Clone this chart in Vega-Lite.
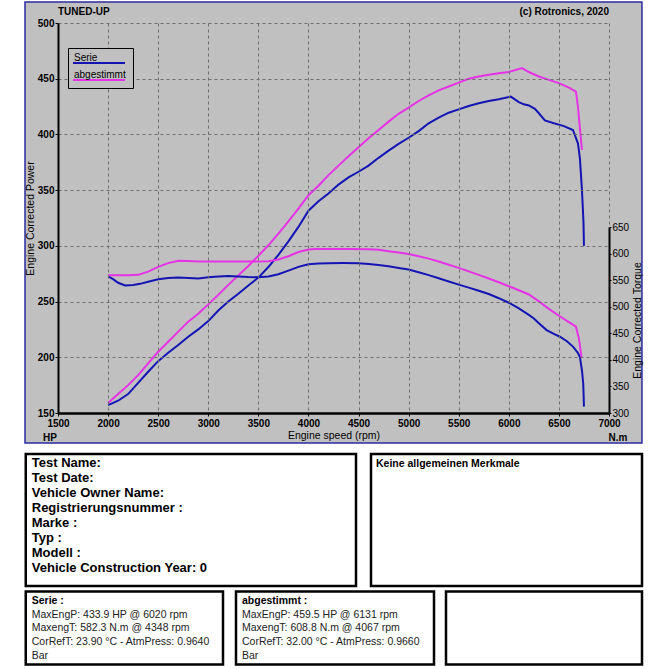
{
  "$schema": "https://vega.github.io/schema/vega-lite/v6.json",
  "background": "white",
  "padding": {"left": 24, "top": 1, "right": 0, "bottom": 0},
  "autosize": {"type": "pad"},
  "config": {
    "view": {"stroke": null},
    "font": "Liberation Sans",
    "axis": {
      "grid": true, "gridColor": "#6e6e6e", "gridDash": [3, 3], "gridWidth": 1,
      "domainColor": "black", "tickColor": "black", "labelColor": "black", "titleColor": "black",
      "labelFont": "Liberation Sans", "titleFont": "Liberation Sans",
      "labelFontSize": 10, "titleFontSize": 10.5, "titleFontWeight": "normal", "tickSize": 3, "format": "d"
    },
    "axisX": {"labelFontWeight": "bold", "domainWidth": 2.5, "labelPadding": 2, "titlePadding": 2, "labelFlush": false},
    "axisLeft": {"labelFontWeight": "bold", "domainWidth": 2, "labelPadding": 1, "titlePadding": 2},
    "axisRight": {"labelFontWeight": "normal", "domainWidth": 2, "labelPadding": 1, "titlePadding": 4, "tickSize": 2}
  },
  "datasets": {
    "power": [
      {"rpm": 2000, "power": 157, "series": "Serie"}, {"rpm": 2100, "power": 161, "series": "Serie"}, {"rpm": 2200, "power": 167, "series": "Serie"}, {"rpm": 2300, "power": 177, "series": "Serie"}, {"rpm": 2400, "power": 187, "series": "Serie"}, {"rpm": 2500, "power": 196.5, "series": "Serie"}, {"rpm": 2600, "power": 204, "series": "Serie"}, {"rpm": 2700, "power": 211, "series": "Serie"}, {"rpm": 2800, "power": 218.5, "series": "Serie"}, {"rpm": 2900, "power": 225, "series": "Serie"}, {"rpm": 3000, "power": 232.5, "series": "Serie"}, {"rpm": 3100, "power": 242, "series": "Serie"}, {"rpm": 3200, "power": 250, "series": "Serie"}, {"rpm": 3300, "power": 257, "series": "Serie"}, {"rpm": 3400, "power": 264.5, "series": "Serie"}, {"rpm": 3500, "power": 271.5, "series": "Serie"}, {"rpm": 3600, "power": 281, "series": "Serie"}, {"rpm": 3700, "power": 292, "series": "Serie"}, {"rpm": 3800, "power": 304, "series": "Serie"}, {"rpm": 3900, "power": 317, "series": "Serie"}, {"rpm": 4000, "power": 331.5, "series": "Serie"}, {"rpm": 4100, "power": 340, "series": "Serie"}, {"rpm": 4200, "power": 347, "series": "Serie"}, {"rpm": 4300, "power": 355, "series": "Serie"}, {"rpm": 4400, "power": 361.5, "series": "Serie"}, {"rpm": 4500, "power": 366.5, "series": "Serie"}, {"rpm": 4600, "power": 372, "series": "Serie"}, {"rpm": 4700, "power": 379, "series": "Serie"}, {"rpm": 4800, "power": 385.5, "series": "Serie"}, {"rpm": 4900, "power": 391.5, "series": "Serie"}, {"rpm": 5000, "power": 397, "series": "Serie"}, {"rpm": 5100, "power": 403, "series": "Serie"}, {"rpm": 5200, "power": 410, "series": "Serie"}, {"rpm": 5300, "power": 415, "series": "Serie"}, {"rpm": 5400, "power": 419.5, "series": "Serie"}, {"rpm": 5500, "power": 422.5, "series": "Serie"}, {"rpm": 5600, "power": 425.5, "series": "Serie"}, {"rpm": 5700, "power": 428, "series": "Serie"}, {"rpm": 5800, "power": 430, "series": "Serie"}, {"rpm": 5900, "power": 431.5, "series": "Serie"}, {"rpm": 6020, "power": 433.9, "series": "Serie"}, {"rpm": 6100, "power": 429, "series": "Serie"}, {"rpm": 6150, "power": 427, "series": "Serie"}, {"rpm": 6200, "power": 426, "series": "Serie"}, {"rpm": 6260, "power": 423, "series": "Serie"}, {"rpm": 6300, "power": 419, "series": "Serie"}, {"rpm": 6360, "power": 412.5, "series": "Serie"}, {"rpm": 6450, "power": 410, "series": "Serie"}, {"rpm": 6550, "power": 407.5, "series": "Serie"}, {"rpm": 6640, "power": 404, "series": "Serie"}, {"rpm": 6690, "power": 392, "series": "Serie"}, {"rpm": 6710, "power": 378, "series": "Serie"}, {"rpm": 6730, "power": 350, "series": "Serie"}, {"rpm": 6745, "power": 322, "series": "Serie"}, {"rpm": 6750, "power": 300, "series": "Serie"},
      {"rpm": 2000, "power": 159, "series": "abgestimmt"}, {"rpm": 2100, "power": 167, "series": "abgestimmt"}, {"rpm": 2200, "power": 175, "series": "abgestimmt"}, {"rpm": 2300, "power": 184, "series": "abgestimmt"}, {"rpm": 2400, "power": 194.5, "series": "abgestimmt"}, {"rpm": 2500, "power": 205, "series": "abgestimmt"}, {"rpm": 2600, "power": 214, "series": "abgestimmt"}, {"rpm": 2700, "power": 223, "series": "abgestimmt"}, {"rpm": 2800, "power": 232, "series": "abgestimmt"}, {"rpm": 2900, "power": 239, "series": "abgestimmt"}, {"rpm": 3000, "power": 247.5, "series": "abgestimmt"}, {"rpm": 3100, "power": 256, "series": "abgestimmt"}, {"rpm": 3200, "power": 265, "series": "abgestimmt"}, {"rpm": 3300, "power": 273.5, "series": "abgestimmt"}, {"rpm": 3400, "power": 282, "series": "abgestimmt"}, {"rpm": 3500, "power": 291, "series": "abgestimmt"}, {"rpm": 3600, "power": 300.5, "series": "abgestimmt"}, {"rpm": 3700, "power": 311, "series": "abgestimmt"}, {"rpm": 3800, "power": 322, "series": "abgestimmt"}, {"rpm": 3900, "power": 333.5, "series": "abgestimmt"}, {"rpm": 4000, "power": 345.5, "series": "abgestimmt"}, {"rpm": 4100, "power": 354, "series": "abgestimmt"}, {"rpm": 4200, "power": 363.5, "series": "abgestimmt"}, {"rpm": 4300, "power": 372, "series": "abgestimmt"}, {"rpm": 4400, "power": 380.5, "series": "abgestimmt"}, {"rpm": 4500, "power": 388.5, "series": "abgestimmt"}, {"rpm": 4600, "power": 396.5, "series": "abgestimmt"}, {"rpm": 4700, "power": 404, "series": "abgestimmt"}, {"rpm": 4800, "power": 411.5, "series": "abgestimmt"}, {"rpm": 4900, "power": 418.5, "series": "abgestimmt"}, {"rpm": 5000, "power": 424, "series": "abgestimmt"}, {"rpm": 5100, "power": 430, "series": "abgestimmt"}, {"rpm": 5200, "power": 435, "series": "abgestimmt"}, {"rpm": 5300, "power": 439.5, "series": "abgestimmt"}, {"rpm": 5400, "power": 443, "series": "abgestimmt"}, {"rpm": 5500, "power": 446.5, "series": "abgestimmt"}, {"rpm": 5600, "power": 450, "series": "abgestimmt"}, {"rpm": 5700, "power": 452, "series": "abgestimmt"}, {"rpm": 5800, "power": 453.5, "series": "abgestimmt"}, {"rpm": 5900, "power": 455, "series": "abgestimmt"}, {"rpm": 6000, "power": 456, "series": "abgestimmt"}, {"rpm": 6131, "power": 459.5, "series": "abgestimmt"}, {"rpm": 6200, "power": 456, "series": "abgestimmt"}, {"rpm": 6300, "power": 452, "series": "abgestimmt"}, {"rpm": 6400, "power": 449, "series": "abgestimmt"}, {"rpm": 6500, "power": 446, "series": "abgestimmt"}, {"rpm": 6600, "power": 442, "series": "abgestimmt"}, {"rpm": 6670, "power": 438.5, "series": "abgestimmt"}, {"rpm": 6690, "power": 425, "series": "abgestimmt"}, {"rpm": 6710, "power": 405, "series": "abgestimmt"}, {"rpm": 6730, "power": 386, "series": "abgestimmt"}
    ],
    "torque": [
      {"rpm": 2000, "torque": 557, "series": "Serie"}, {"rpm": 2050, "torque": 552, "series": "Serie"}, {"rpm": 2100, "torque": 545, "series": "Serie"}, {"rpm": 2170, "torque": 540, "series": "Serie"}, {"rpm": 2250, "torque": 541, "series": "Serie"}, {"rpm": 2320, "torque": 543, "series": "Serie"}, {"rpm": 2400, "torque": 547, "series": "Serie"}, {"rpm": 2500, "torque": 551.5, "series": "Serie"}, {"rpm": 2600, "torque": 554, "series": "Serie"}, {"rpm": 2700, "torque": 555, "series": "Serie"}, {"rpm": 2800, "torque": 554, "series": "Serie"}, {"rpm": 2900, "torque": 553, "series": "Serie"}, {"rpm": 3000, "torque": 555.5, "series": "Serie"}, {"rpm": 3100, "torque": 557, "series": "Serie"}, {"rpm": 3200, "torque": 558, "series": "Serie"}, {"rpm": 3300, "torque": 557, "series": "Serie"}, {"rpm": 3400, "torque": 556, "series": "Serie"}, {"rpm": 3500, "torque": 555.5, "series": "Serie"}, {"rpm": 3600, "torque": 557, "series": "Serie"}, {"rpm": 3700, "torque": 561, "series": "Serie"}, {"rpm": 3800, "torque": 568, "series": "Serie"}, {"rpm": 3900, "torque": 575, "series": "Serie"}, {"rpm": 4000, "torque": 580, "series": "Serie"}, {"rpm": 4100, "torque": 581.5, "series": "Serie"}, {"rpm": 4200, "torque": 582, "series": "Serie"}, {"rpm": 4348, "torque": 582.3, "series": "Serie"}, {"rpm": 4500, "torque": 582, "series": "Serie"}, {"rpm": 4600, "torque": 580.5, "series": "Serie"}, {"rpm": 4700, "torque": 578.5, "series": "Serie"}, {"rpm": 4800, "torque": 576, "series": "Serie"}, {"rpm": 4900, "torque": 573, "series": "Serie"}, {"rpm": 5000, "torque": 570, "series": "Serie"}, {"rpm": 5100, "torque": 565, "series": "Serie"}, {"rpm": 5200, "torque": 559.5, "series": "Serie"}, {"rpm": 5300, "torque": 553.5, "series": "Serie"}, {"rpm": 5400, "torque": 547.5, "series": "Serie"}, {"rpm": 5500, "torque": 541.5, "series": "Serie"}, {"rpm": 5600, "torque": 536, "series": "Serie"}, {"rpm": 5700, "torque": 530, "series": "Serie"}, {"rpm": 5800, "torque": 524, "series": "Serie"}, {"rpm": 5900, "torque": 516, "series": "Serie"}, {"rpm": 6000, "torque": 507.5, "series": "Serie"}, {"rpm": 6100, "torque": 497, "series": "Serie"}, {"rpm": 6200, "torque": 484.5, "series": "Serie"}, {"rpm": 6250, "torque": 478, "series": "Serie"}, {"rpm": 6300, "torque": 469, "series": "Serie"}, {"rpm": 6377, "torque": 456, "series": "Serie"}, {"rpm": 6450, "torque": 449, "series": "Serie"}, {"rpm": 6510, "torque": 443.5, "series": "Serie"}, {"rpm": 6580, "torque": 435, "series": "Serie"}, {"rpm": 6643, "torque": 424.5, "series": "Serie"}, {"rpm": 6690, "torque": 413, "series": "Serie"}, {"rpm": 6710, "torque": 405, "series": "Serie"}, {"rpm": 6730, "torque": 380, "series": "Serie"}, {"rpm": 6743, "torque": 355, "series": "Serie"}, {"rpm": 6750, "torque": 312, "series": "Serie"},
      {"rpm": 2000, "torque": 559, "series": "abgestimmt"}, {"rpm": 2100, "torque": 559, "series": "abgestimmt"}, {"rpm": 2200, "torque": 559, "series": "abgestimmt"}, {"rpm": 2300, "torque": 560, "series": "abgestimmt"}, {"rpm": 2400, "torque": 566, "series": "abgestimmt"}, {"rpm": 2500, "torque": 575, "series": "abgestimmt"}, {"rpm": 2600, "torque": 582, "series": "abgestimmt"}, {"rpm": 2700, "torque": 586.5, "series": "abgestimmt"}, {"rpm": 2800, "torque": 586, "series": "abgestimmt"}, {"rpm": 2900, "torque": 585, "series": "abgestimmt"}, {"rpm": 3000, "torque": 585, "series": "abgestimmt"}, {"rpm": 3200, "torque": 585, "series": "abgestimmt"}, {"rpm": 3400, "torque": 585, "series": "abgestimmt"}, {"rpm": 3600, "torque": 585.5, "series": "abgestimmt"}, {"rpm": 3700, "torque": 589, "series": "abgestimmt"}, {"rpm": 3800, "torque": 595, "series": "abgestimmt"}, {"rpm": 3900, "torque": 603, "series": "abgestimmt"}, {"rpm": 4000, "torque": 607.5, "series": "abgestimmt"}, {"rpm": 4067, "torque": 608.8, "series": "abgestimmt"}, {"rpm": 4200, "torque": 608.5, "series": "abgestimmt"}, {"rpm": 4400, "torque": 608.5, "series": "abgestimmt"}, {"rpm": 4600, "torque": 608, "series": "abgestimmt"}, {"rpm": 4700, "torque": 607, "series": "abgestimmt"}, {"rpm": 4800, "torque": 604.5, "series": "abgestimmt"}, {"rpm": 4900, "torque": 602, "series": "abgestimmt"}, {"rpm": 5000, "torque": 599, "series": "abgestimmt"}, {"rpm": 5100, "torque": 595, "series": "abgestimmt"}, {"rpm": 5200, "torque": 590.5, "series": "abgestimmt"}, {"rpm": 5300, "torque": 585, "series": "abgestimmt"}, {"rpm": 5400, "torque": 579, "series": "abgestimmt"}, {"rpm": 5500, "torque": 573, "series": "abgestimmt"}, {"rpm": 5600, "torque": 566.5, "series": "abgestimmt"}, {"rpm": 5700, "torque": 560, "series": "abgestimmt"}, {"rpm": 5800, "torque": 553, "series": "abgestimmt"}, {"rpm": 5900, "torque": 546, "series": "abgestimmt"}, {"rpm": 6000, "torque": 538.5, "series": "abgestimmt"}, {"rpm": 6100, "torque": 531, "series": "abgestimmt"}, {"rpm": 6200, "torque": 523, "series": "abgestimmt"}, {"rpm": 6300, "torque": 510, "series": "abgestimmt"}, {"rpm": 6400, "torque": 496, "series": "abgestimmt"}, {"rpm": 6500, "torque": 483, "series": "abgestimmt"}, {"rpm": 6600, "torque": 471, "series": "abgestimmt"}, {"rpm": 6670, "torque": 462.5, "series": "abgestimmt"}, {"rpm": 6700, "torque": 440, "series": "abgestimmt"}, {"rpm": 6726, "torque": 405, "series": "abgestimmt"}
    ],
    "info": [
      {"line": 1, "text": "Test Name:"}, {"line": 2, "text": "Test Date:"}, {"line": 3, "text": "Vehicle Owner Name:"}, {"line": 4, "text": "Registrierungsnummer  :"}, {"line": 5, "text": "Marke  :"}, {"line": 6, "text": "Typ  :"}, {"line": 7, "text": "Modell  :"}, {"line": 8, "text": "Vehicle Construction Year: 0"}
    ],
    "notes": [{"line": 1, "text": "Keine allgemeinen Merkmale"}],
    "serie": [
      {"line": 1, "text": "Serie :"}, {"line": 2, "text": "MaxEngP: 433.9 HP @ 6020 rpm"}, {"line": 3, "text": "MaxengT: 582.3 N.m @ 4348 rpm"}, {"line": 4, "text": "CorRefT: 23.90 °C - AtmPress: 0.9640"}, {"line": 5, "text": "Bar"}
    ],
    "tuned": [
      {"line": 1, "text": "abgestimmt :"}, {"line": 2, "text": "MaxEngP: 459.5 HP @ 6131 rpm"}, {"line": 3, "text": "MaxengT: 608.8 N.m @ 4067 rpm"}, {"line": 4, "text": "CorRefT: 32.00 °C - AtmPress: 0.9660"}, {"line": 5, "text": "Bar"}
    ]
  },
  "spacing": 8,
  "vconcat": [
    {
      "width": 551,
      "height": 390,
      "layer": [
        {
          "layer": [
            {
              "data": {"values": [{}]},
              "mark": {"type": "rect", "fill": "#C0C0C0", "stroke": "#2B2BA0", "strokeWidth": 1.5},
              "encoding": {
                "x": {"datum": 1170.6, "type": "quantitative", "scale": {"domain": [1500, 7000]}},
                "x2": {"datum": 7329},
                "y": {"datum": 518.85, "type": "quantitative", "scale": {"domain": [150, 500]}},
                "y2": {"datum": 123.1}
              }
            },
            {
              "data": {"name": "power"},
              "mark": {"type": "line", "strokeWidth": 2},
              "encoding": {
                "x": {"field": "rpm", "type": "quantitative", "scale": {"domain": [1500, 7000]}, "axis": {"title": "Engine speed (rpm)", "zindex": 1, "values": [1500, 2000, 2500, 3000, 3500, 4000, 4500, 5000, 5500, 6000, 6500, 7000]}},
                "y": {"field": "power", "type": "quantitative", "scale": {"domain": [150, 500]}, "axis": {"title": "Engine Corrected Power", "orient": "left", "zindex": 1, "values": [150, 200, 250, 300, 350, 400, 450, 500]}},
                "color": {
                  "field": "series", "type": "nominal",
                  "scale": {"domain": ["Serie", "abgestimmt"], "range": ["#1414B4", "#E632E6"]},
                  "legend": {"title": null, "orient": "none", "legendX": 10, "legendY": 25, "strokeColor": "black", "fillColor": "#C0C0C0", "padding": 4, "symbolType": "M-1,1H9.4", "symbolStrokeWidth": 2, "symbolSize": 100, "labelOffset": -10, "labelBaseline": "middle", "labelFontSize": 10, "labelFont": "Liberation Sans", "labelColor": "black", "rowPadding": 2, "zindex": 2}
                }
              }
            },
            {
              "data": {"values": [{}]},
              "mark": {"type": "text", "align": "left", "baseline": "middle", "fontSize": 10, "fontWeight": "bold", "color": "black"},
              "encoding": {
                "x": {"datum": 1500, "type": "quantitative", "scale": {"domain": [1500, 7000]}},
                "y": {"datum": 510, "type": "quantitative", "scale": {"domain": [150, 500]}},
                "text": {"value": "TUNED-UP"}
              }
            },
            {
              "data": {"values": [{}]},
              "mark": {"type": "text", "align": "right", "baseline": "middle", "fontSize": 10, "fontWeight": "bold", "color": "black"},
              "encoding": {
                "x": {"datum": 7000, "type": "quantitative", "scale": {"domain": [1500, 7000]}},
                "y": {"datum": 510, "type": "quantitative", "scale": {"domain": [150, 500]}},
                "text": {"value": "(c) Rotronics, 2020"}
              }
            },
            {
              "data": {"values": [{}]},
              "mark": {"type": "text", "align": "center", "baseline": "middle", "fontSize": 10, "fontWeight": "bold", "color": "black"},
              "encoding": {
                "x": {"datum": 1420, "type": "quantitative", "scale": {"domain": [1500, 7000]}},
                "y": {"datum": 128, "type": "quantitative", "scale": {"domain": [150, 500]}},
                "text": {"value": "HP"}
              }
            },
            {
              "data": {"values": [{}]},
              "mark": {"type": "text", "align": "center", "baseline": "middle", "fontSize": 10, "fontWeight": "bold", "color": "black"},
              "encoding": {
                "x": {"datum": 7090, "type": "quantitative", "scale": {"domain": [1500, 7000]}},
                "y": {"datum": 128, "type": "quantitative", "scale": {"domain": [150, 500]}},
                "text": {"value": "N.m"}
              }
            }
          ]
        },
        {
          "data": {"name": "torque"},
          "mark": {"type": "line", "strokeWidth": 2},
          "encoding": {
            "x": {"field": "rpm", "type": "quantitative", "scale": {"domain": [1500, 7000]}, "axis": {"title": "Engine speed (rpm)", "zindex": 1, "values": [1500, 2000, 2500, 3000, 3500, 4000, 4500, 5000, 5500, 6000, 6500, 7000]}},
            "y": {"field": "torque", "type": "quantitative", "scale": {"domain": [300, 650], "range": [390, 204]}, "axis": {"title": "Engine Corrected Torque", "orient": "right", "zindex": 1, "titleAngle": 270, "titleBaseline": "top", "values": [300, 350, 400, 450, 500, 550, 600, 650]}},
            "color": {"field": "series", "type": "nominal", "scale": {"domain": ["Serie", "abgestimmt"], "range": ["#1414B4", "#E632E6"]}}
          }
        }
      ],
      "resolve": {"scale": {"y": "independent"}}
    },
    {
      "spacing": 1.5,
      "vconcat": [
        {
          "spacing": 11,
          "hconcat": [
            {
              "width": 298, "height": 132,
              "data": {"name": "info"},
              "layer": [
                {
                  "data": {"values": [{}]},
                  "mark": {"type": "rect", "fill": "white", "stroke": "black", "strokeWidth": 2.5},
                  "encoding": {
                    "x": {"datum": -0.1082, "type": "quantitative", "scale": {"domain": [0, 1]}, "axis": null},
                    "x2": {"datum": 1},
                    "y": {"datum": 0.38, "type": "quantitative", "scale": {"domain": [0.38, 9.18], "reverse": true}, "axis": null},
                    "y2": {"datum": 9.18}
                  }
                },
                {
                  "mark": {"type": "text", "align": "left", "baseline": "middle", "dx": 6, "font": "Liberation Sans", "fontSize": 13, "fontWeight": "bold", "color": "black"},
                  "encoding": {
                    "x": {"datum": -0.1082, "type": "quantitative", "scale": {"domain": [0, 1]}, "axis": null},
                    "y": {"field": "line", "type": "quantitative", "scale": {"domain": [0.38, 9.18], "reverse": true}, "axis": null},
                    "text": {"field": "text"}
                  }
                }
              ]
            },
            {
              "width": 271, "height": 132,
              "view": {"stroke": "black", "strokeWidth": 2.5, "fill": "white"},
              "data": {"name": "notes"},
              "mark": {"type": "text", "align": "left", "baseline": "middle", "dx": 5, "font": "Liberation Sans", "fontSize": 10.5, "fontWeight": "bold", "color": "black"},
              "encoding": {
                "x": {"datum": 0, "type": "quantitative", "scale": {"domain": [0, 1]}, "axis": null},
                "y": {"field": "line", "type": "quantitative", "scale": {"domain": [0.33, 9.13], "reverse": true}, "axis": null},
                "text": {"field": "text"}
              }
            }
          ]
        },
        {
          "spacing": 9,
          "hconcat": [
            {
              "width": 165, "height": 73,
              "data": {"name": "serie"},
              "layer": [
                {
                  "data": {"values": [{}]},
                  "mark": {"type": "rect", "fill": "white", "stroke": "black", "strokeWidth": 2.5},
                  "encoding": {
                    "x": {"datum": -0.1955, "type": "quantitative", "scale": {"domain": [0, 1]}, "axis": null},
                    "x2": {"datum": 1},
                    "y": {"datum": 0.324, "type": "quantitative", "scale": {"domain": [0.324, 5.633], "reverse": true}, "axis": null},
                    "y2": {"datum": 5.633}
                  }
                },
                {
                  "transform": [{"filter": "datum.line == 1"}],
                  "mark": {"type": "text", "align": "left", "baseline": "middle", "dx": 6, "font": "Liberation Sans", "fontSize": 10.5, "fontWeight": "bold", "color": "black"},
                  "encoding": {
                    "x": {"datum": -0.1955, "type": "quantitative", "scale": {"domain": [0, 1]}, "axis": null},
                    "y": {"field": "line", "type": "quantitative", "scale": {"domain": [0.324, 5.633], "reverse": true}, "axis": null},
                    "text": {"field": "text"}
                  }
                },
                {
                  "transform": [{"filter": "datum.line > 1"}],
                  "mark": {"type": "text", "align": "left", "baseline": "middle", "dx": 6, "font": "Liberation Sans", "fontSize": 10.5, "color": "#222222"},
                  "encoding": {
                    "x": {"datum": -0.1955, "type": "quantitative", "scale": {"domain": [0, 1]}, "axis": null},
                    "y": {"field": "line", "type": "quantitative", "scale": {"domain": [0.324, 5.633], "reverse": true}, "axis": null},
                    "text": {"field": "text"}
                  }
                }
              ]
            },
            {
              "spacing": 8,
              "hconcat": [
                {
                  "width": 198, "height": 73,
                  "view": {"stroke": "black", "strokeWidth": 2.5, "fill": "white"},
                  "data": {"name": "tuned"},
                  "encoding": {
                    "x": {"datum": 0, "type": "quantitative", "scale": {"domain": [0, 1]}, "axis": null},
                    "y": {"field": "line", "type": "quantitative", "scale": {"domain": [0.324, 5.633], "reverse": true}, "axis": null},
                    "text": {"field": "text"}
                  },
                  "layer": [
                    {"transform": [{"filter": "datum.line == 1"}], "mark": {"type": "text", "align": "left", "baseline": "middle", "dx": 6, "font": "Liberation Sans", "fontSize": 10.5, "fontWeight": "bold", "color": "black"}},
                    {"transform": [{"filter": "datum.line > 1"}], "mark": {"type": "text", "align": "left", "baseline": "middle", "dx": 6, "font": "Liberation Sans", "fontSize": 10.5, "color": "#222222"}}
                  ]
                },
                {
                  "width": 196, "height": 73,
                  "view": {"stroke": "black", "strokeWidth": 2.5, "fill": "white"},
                  "data": {"values": []},
                  "mark": {"type": "text"},
                  "encoding": {"text": {"value": ""}}
                }
              ]
            }
          ]
        }
      ]
    }
  ]
}
